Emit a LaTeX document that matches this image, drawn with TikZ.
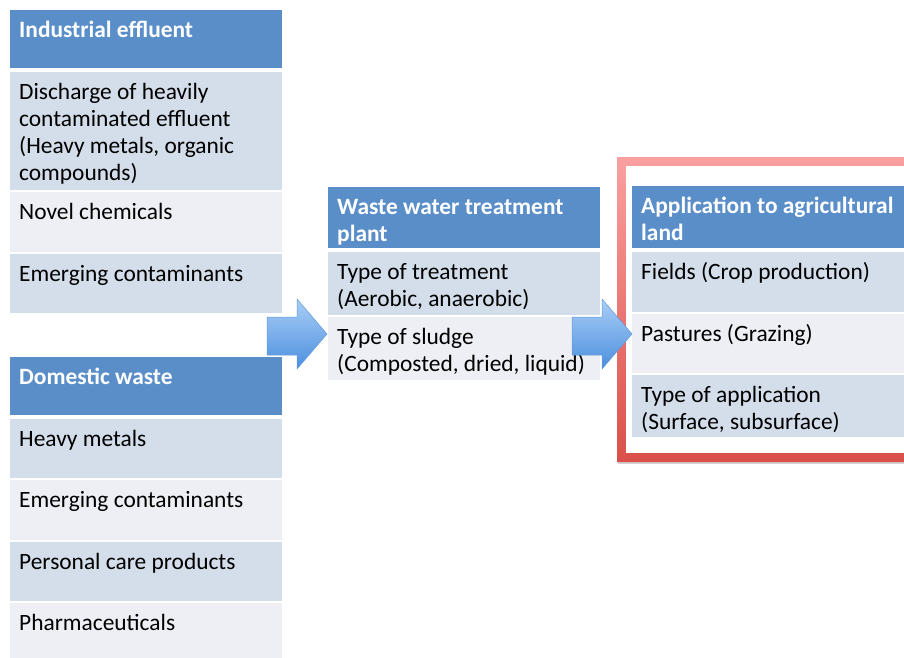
\documentclass[tikz,border=0pt]{standalone}
\usepackage{fontspec}
\setmainfont{Carlito}
\definecolor{hdrblue}{RGB}{90,142,201}
\definecolor{rowdark}{RGB}{211,222,234}
\definecolor{rowlight}{RGB}{238,239,244}
\definecolor{arrtop}{RGB}{170,206,246}
\definecolor{arrbot}{RGB}{75,143,222}
\definecolor{arredge}{RGB}{100,155,218}
\definecolor{redtop}{RGB}{250,160,160}
\definecolor{redbot}{RGB}{218,80,74}
\tikzset{
  hdr/.style={fill=hdrblue},
  dark/.style={fill=rowdark},
  light/.style={fill=rowlight},
  hdrtext/.style={text=white,font=\fontsize{23.4}{27}\selectfont\bfseries},
  rowtext/.style={text=black,font=\fontsize{23.4}{27}\selectfont},
  blockarrow/.style={top color=arrtop,bottom color=arrbot,draw=arredge,line width=0.5pt,line join=miter},
}
% name, x1, y1, x2, y2, cell style, text style, text
\newcommand\cellbox[8]{%
  \node[#6,draw=none,anchor=north west,inner sep=0,minimum width={#4-#2},minimum height={#5-#3}] (#1) at (#2,#3) {};
  \node[#7,anchor=base west,inner sep=0] (#1-t) at ([xshift=9pt,yshift=-27pt]#1.north west) {\parbox[t]{300pt}{\raggedright #8}};
}
\begin{document}
\begin{tikzpicture}[x=1pt,y=-1pt]
\useasboundingbox (0,0) rectangle (904,657);
\clip (0,0) rectangle (904,657);
\fill[white] (0,0) rectangle (904,657);

% left column: industrial effluent
\cellbox{ie}{10}{10}{282}{68}{hdr}{hdrtext}{Industrial effluent}
\cellbox{ie1}{10}{72}{282}{190}{dark}{rowtext}{Discharge of heavily\\contaminated effluent\\(Heavy metals, organic\\compounds)}
\cellbox{ie2}{10}{192}{282}{252}{light}{rowtext}{Novel chemicals}
\cellbox{ie3}{10}{254}{282}{313}{dark}{rowtext}{Emerging contaminants}

% left column: domestic waste
\cellbox{dw}{10}{357}{282}{415}{hdr}{hdrtext}{Domestic waste}
\cellbox{dw1}{10}{419}{282}{478}{dark}{rowtext}{Heavy metals}
\cellbox{dw2}{10}{480}{282}{540}{light}{rowtext}{Emerging contaminants}
\cellbox{dw3}{10}{542}{282}{601}{dark}{rowtext}{Personal care products}
\cellbox{dw4}{10}{603}{282}{670}{light}{rowtext}{Pharmaceuticals}

% middle column
\cellbox{ww}{328}{187}{600}{248}{hdr}{hdrtext}{Waste water treatment\\plant}
\cellbox{ww1}{328}{252}{600}{315}{dark}{rowtext}{Type of treatment\\(Aerobic, anaerobic)}
\cellbox{ww2}{328}{317}{600}{380}{light}{rowtext}{Type of sludge\\(Composted, dried, liquid)}

% red frame
\fill[black!18] (618,158) rectangle (940,464);
\shade[even odd rule,top color=redtop,bottom color=redbot]
  (617,157) rectangle (940,462) (626,166) rectangle (940,453);
\fill[white] (626,166) rectangle (940,453);

% right column
\cellbox{ag}{632}{186}{940}{248}{hdr}{hdrtext}{Application to agricultural\\land}
\cellbox{ag1}{632}{252}{940}{312}{dark}{rowtext}{Fields (Crop production)}
\cellbox{ag2}{632}{314}{940}{373}{light}{rowtext}{Pastures (Grazing)}
\cellbox{ag3}{632}{375}{940}{437}{dark}{rowtext}{Type of application\\(Surface, subsurface)}

% block arrows
\coordinate (a1) at (267,317);
\coordinate (a2) at (572,317);
\foreach \a in {a1,a2}{
  \path[blockarrow] (\a) -- ++(30,0) -- ++(0,-18) -- ++(30,35) -- ++(-30,35) -- ++(0,-14) -- ++(-30,0) -- cycle;
}
\end{tikzpicture}
\end{document}
